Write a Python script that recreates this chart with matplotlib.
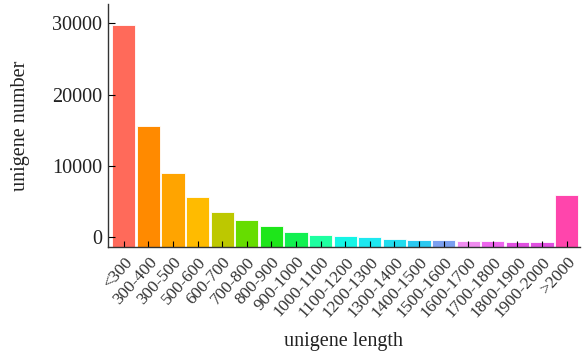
import matplotlib
matplotlib.use("Agg")
from matplotlib import pyplot as plt

# data
categories = ["<300", "300-400", "300-500", "500-600", "600-700", "700-800",
              "800-900", "900-1000", "1000-1100", "1100-1200", "1200-1300",
              "1300-1400", "1400-1500", "1500-1600", "1600-1700", "1700-1800",
              "1800-1900", "1900-2000", ">2000"]
values = [29800, 15600, 8950, 5600, 3500, 2350, 1550, 750, 360, 220, 0,
          -200, -380, -420, -560, -540, -750, -700, 5900]
colors = ["#ff6a5a", "#ff8a00", "#ffa400", "#ffbb00", "#bdc800", "#66dd00",
          "#1ee61a", "#12f050", "#1effa0", "#14f5e6", "#1ee8f0", "#22dcee",
          "#2ac8f0", "#7ba0f0", "#f08cf0", "#ee66ee", "#e050e0", "#e050e0",
          "#ff45ac"]
y_bottom = -1400

plt.rcParams["font.family"] = ["Liberation Serif", "DejaVu Serif"]

fig = plt.figure(figsize=(5.84, 3.54), dpi=100)
ax = fig.add_axes([0.185, 0.302, 0.808, 0.688])

x = list(range(len(categories)))
heights = [v - y_bottom for v in values]
ax.bar(x, heights, bottom=y_bottom, width=0.94, color=colors,
       edgecolor="white", linewidth=0.6)

ax.set_ylim(y_bottom, 32800)
ax.set_xlim(-0.64, len(categories) - 0.46)
ax.set_yticks([0, 10000, 20000, 30000])
ax.set_xticks(x)
ax.set_xticklabels(categories, rotation=48, ha="right", rotation_mode="anchor",
                   fontsize=12.5, color="#333333")
ax.tick_params(axis="y", direction="in", length=5, labelsize=14.5,
               labelcolor="#222222", pad=4)
ax.tick_params(axis="x", direction="in", length=4, pad=5)

for s in ["top", "right"]:
    ax.spines[s].set_visible(False)
for s in ["left", "bottom"]:
    ax.spines[s].set_color("#333333")
    ax.spines[s].set_linewidth(1.0)

ax.set_ylabel("unigene number", fontsize=14.5, color="#222222", labelpad=16)
ax.set_xlabel("unigene length", fontsize=14.5, color="#222222", labelpad=8)

fig.savefig("out.png", dpi=100)
